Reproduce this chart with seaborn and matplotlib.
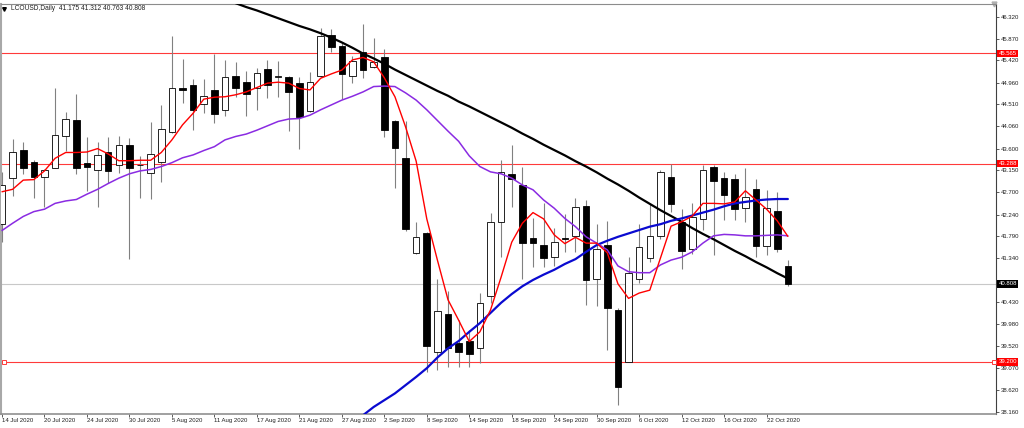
import numpy as np
import pandas as pd
import seaborn as sns
import matplotlib.pyplot as plt
from matplotlib import transforms

# daily bars, LCOUSD
dates = pd.bdate_range('2020-07-14', '2020-10-26')
date_labels = [f'{d.day} {d.strftime("%b %Y")}' for d in dates]

opens = [42.04, 43.00, 43.57, 43.33, 43.01, 43.21, 43.86, 44.18, 43.31, 43.15,
         43.52, 43.26, 43.68, 43.27, 43.09, 43.32, 43.95, 44.86, 44.91, 44.51,
         44.80, 44.40, 45.10, 44.98, 44.86, 45.24, 45.07, 45.08, 44.96, 44.38,
         45.10, 45.95, 45.72, 45.10, 45.59, 45.29, 45.48, 44.16, 43.41, 41.44,
         41.85, 39.41, 40.19, 39.58, 39.63, 39.49, 40.56, 42.08, 43.07, 42.85,
         41.75, 41.61, 41.36, 41.75, 41.80, 42.42, 40.92, 41.61, 40.27, 39.20,
         40.90, 41.35, 41.80, 43.01, 42.09, 41.52, 42.14, 43.23, 42.99, 42.97,
         42.37, 42.76, 41.59, 42.32, 41.175]
highs = [43.12, 43.80, 43.74, 43.37, 43.18, 44.84, 44.35, 44.73, 43.83, 43.73,
         43.83, 43.87, 43.81, 43.45, 44.14, 44.50, 45.92, 45.44, 45.03, 45.04,
         45.55, 45.43, 45.39, 45.20, 45.27, 45.43, 45.41, 45.10, 45.07, 45.17,
         46.08, 46.07, 45.77, 45.51, 46.17, 45.89, 45.65, 44.20, 44.16, 42.09,
         41.88, 40.90, 40.67, 40.06, 39.86, 40.62, 42.27, 43.37, 43.67, 43.23,
         42.16, 42.48, 41.96, 42.25, 42.59, 42.54, 42.05, 42.11, 40.31, 41.37,
         42.05, 42.46, 43.16, 43.28, 42.35, 42.47, 43.26, 43.26, 43.12, 43.08,
         43.21, 42.97, 42.75, 42.71, 41.312]
lows = [41.67, 42.62, 43.08, 42.58, 42.40, 43.21, 43.55, 43.08, 42.73, 42.40,
        42.90, 43.09, 41.32, 42.58, 42.55, 42.91, 43.92, 44.55, 43.98, 44.33,
        44.13, 44.28, 44.67, 44.28, 44.40, 44.64, 44.67, 43.96, 43.59, 44.36,
        45.08, 45.59, 44.62, 44.95, 45.05, 45.26, 43.83, 42.78, 41.91, 41.43,
        39.00, 39.03, 39.10, 39.10, 39.09, 39.17, 40.41, 41.37, 42.40, 40.90,
        41.15, 41.15, 41.18, 41.47, 41.47, 40.37, 40.35, 39.45, 38.31, 39.19,
        40.82, 41.27, 41.73, 42.30, 41.11, 41.42, 41.92, 41.41, 42.13, 42.13,
        42.09, 41.37, 41.41, 41.47, 40.763]
closes = [42.85, 43.52, 43.21, 43.02, 43.16, 43.89, 44.22, 43.21, 43.23, 43.47,
          43.13, 43.68, 43.21, 43.26, 43.49, 44.00, 44.86, 44.81, 44.40, 44.69,
          44.31, 45.07, 44.86, 44.73, 45.15, 44.91, 45.10, 44.77, 44.25, 44.97,
          45.92, 45.70, 45.14, 45.41, 45.22, 45.38, 43.98, 43.61, 41.94, 41.77,
          39.53, 40.25, 39.48, 39.41, 39.36, 40.41, 42.08, 43.12, 42.97, 41.65,
          41.65, 41.35, 41.68, 41.74, 42.39, 40.89, 41.52, 40.31, 38.68, 41.03,
          41.56, 41.80, 43.11, 42.46, 41.49, 42.18, 43.16, 42.94, 42.64, 42.35,
          42.61, 41.59, 42.37, 41.52, 40.808]

# moving averages
ma_red = [42.71, 42.76, 42.95, 42.96, 43.14, 43.40, 43.52, 43.52, 43.53, 43.60,
          43.49, 43.35, 43.35, 43.36, 43.36, 43.52, 43.78, 44.09, 44.33, 44.62,
          44.66, 44.67, 44.71, 44.77, 44.86, 44.95, 44.97, 44.95, 44.84, 44.81,
          45.05, 45.14, 45.22, 45.43, 45.48, 45.39, 45.06, 44.67, 44.05, 43.34,
          42.15, 41.30, 40.48, 40.06, 39.62, 39.82, 40.27, 40.95, 41.67, 42.06,
          42.28, 42.15, 41.82, 41.64, 41.77, 41.65, 41.65, 41.45, 40.81, 40.51,
          40.62, 40.68, 41.34, 42.00, 42.09, 42.21, 42.47, 42.47, 42.46, 42.50,
          42.73, 42.54, 42.35, 42.11, 41.79]
ma_purple = [41.91, 42.06, 42.20, 42.30, 42.35, 42.47, 42.52, 42.55, 42.66, 42.76,
             42.88, 42.99, 43.08, 43.14, 43.17, 43.23, 43.31, 43.41, 43.47, 43.56,
             43.64, 43.78, 43.85, 43.90, 43.98, 44.07, 44.16, 44.21, 44.22, 44.29,
             44.40, 44.50, 44.60, 44.68, 44.77, 44.88, 44.89, 44.88, 44.75, 44.60,
             44.40, 44.18, 43.96, 43.75, 43.45, 43.23, 43.12, 43.08, 42.99, 42.85,
             42.75, 42.54, 42.37, 42.16, 41.99, 41.78, 41.65, 41.51, 41.18, 41.06,
             41.04, 41.04, 41.20, 41.30, 41.36, 41.47, 41.65, 41.80, 41.83, 41.82,
             41.80, 41.80, 41.81, 41.82, 41.80]
ma_blue = [np.nan] * 33 + [
    37.92, 38.10, 38.27, 38.41, 38.55, 38.72, 38.89, 39.07, 39.29, 39.48,
    39.63, 39.82, 40.00, 40.21, 40.42, 40.60, 40.76, 40.89, 41.00, 41.10,
    41.22, 41.32, 41.47, 41.61, 41.70, 41.78, 41.85, 41.92, 41.99, 42.04,
    42.11, 42.16, 42.22, 42.28, 42.34, 42.41, 42.47, 42.50, 42.53, 42.55,
    42.56, 42.56]
ma_black = [np.nan] * 21 + [
    46.69, 46.60, 46.52, 46.45, 46.37, 46.29, 46.21, 46.13, 46.06, 45.98,
    45.89, 45.79, 45.68, 45.56, 45.46, 45.35, 45.23, 45.12, 45.01, 44.90,
    44.79, 44.69, 44.57, 44.47, 44.36, 44.25, 44.14, 44.03, 43.91, 43.80,
    43.68, 43.57, 43.46, 43.34, 43.23, 43.11, 42.98, 42.86, 42.73, 42.59,
    42.46, 42.33, 42.21, 42.09, 41.96, 41.84, 41.73, 41.61, 41.49, 41.38,
    41.26, 41.15, 41.03, 40.92]

levels = [45.565, 43.288, 39.200]
last_price = 40.808
price_ticks = [46.320, 45.870, 45.420, 44.960, 44.510, 44.060, 43.600, 43.150,
               42.700, 42.240, 41.790, 41.340, 40.880, 40.430, 39.980, 39.520,
               39.070, 38.620, 38.160]

df = pd.DataFrame({'bar': np.arange(len(dates)), 'open': opens, 'high': highs,
                   'low': lows, 'close': closes, 'ma_red': ma_red,
                   'ma_purple': ma_purple, 'ma_blue': ma_blue, 'ma_black': ma_black})

sns.set_style('white')
plt.rcParams['font.family'] = ['Liberation Sans Narrow', 'Liberation Sans', 'DejaVu Sans']

fig = plt.figure(figsize=(10.24, 4.28), dpi=100)
ax = fig.add_axes([1 / 1024, 1 - 414 / 428, 995 / 1024, 410 / 428])

# levels
for lv in levels:
    ax.axhline(lv, color='#ff3a3a', lw=0.8, zorder=1)
ax.axhline(last_price, color='#c8c8c8', lw=0.8, zorder=1)

# candles
up = df['close'] >= df['open']
ax.vlines(df['bar'], df['low'], df['high'], color='#808080', lw=0.8, zorder=2)
body_lo = np.minimum(df['open'], df['close'])
body_h = np.maximum(np.abs(df['close'] - df['open']), 0.004)
ax.bar(df['bar'], body_h, bottom=body_lo, width=0.62,
       color=np.where(up, 'white', 'black'), edgecolor='black', linewidth=0.6, zorder=3)

# moving averages
sns.lineplot(data=df, x='bar', y='ma_black', color='black', lw=1.6, estimator=None, ax=ax, zorder=4)
sns.lineplot(data=df, x='bar', y='ma_blue', color='#0a0ad0', lw=1.6, estimator=None, ax=ax, zorder=4)
sns.lineplot(data=df, x='bar', y='ma_purple', color='#8a2be2', lw=1.1, estimator=None, ax=ax, zorder=5)
sns.lineplot(data=df, x='bar', y='ma_red', color='#ff0000', lw=1.0, estimator=None, ax=ax, zorder=6)

trans = transforms.blended_transform_factory(ax.transAxes, ax.transData)

# small markers on the lower level line
ax.plot([0.003, 0.9975], [levels[2], levels[2]], ls='none', marker='s', ms=2.5,
        mfc='white', mec='#ff3a3a', mew=0.7, transform=trans, clip_on=False, zorder=6)

ax.set_xlim(-0.094, 93.6)
ax.set_ylim(38.125, 46.583)
ax.set_xlabel('')
ax.set_ylabel('')

tick_bars = list(range(0, len(dates), 4))
ax.set_xticks(tick_bars)
ax.set_xticklabels([date_labels[i] for i in tick_bars], fontsize=4.3, color='#202020')
for lbl in ax.get_xticklabels():
    lbl.set_horizontalalignment('left')
ax.tick_params(axis='x', length=2.2, width=0.6, pad=1, color='#404040', bottom=True)

# the 40.880 label sits under the current price box, as on the terminal
ax.yaxis.tick_right()
ax.set_yticks(price_ticks)
ax.set_yticklabels(['' if abs(v - 40.88) < 1e-6 else f'{v:.3f}' for v in price_ticks],
                   fontsize=4.3, color='#202020')
ax.tick_params(axis='y', length=2, width=0.6, pad=1.2, color='#404040', right=True)

ax.spines['left'].set_color('#a8a8a8')
ax.spines['left'].set_linewidth(1.5)
ax.spines['top'].set_color('#8c8c8c')
ax.spines['top'].set_linewidth(0.8)
ax.spines['right'].set_color('#404040')
ax.spines['right'].set_linewidth(0.8)
ax.spines['bottom'].set_color('#909090')
ax.spines['bottom'].set_linewidth(1.2)

# price labels on the scale
for lv in levels:
    ax.text(1.0025, lv, f'{lv:.3f}', transform=trans, ha='left', va='center', fontsize=4.3,
            color='white', zorder=10, clip_on=False,
            bbox=dict(boxstyle='square,pad=0.2', fc='#ff0000', ec='none'))
ax.text(1.0025, last_price, f'{last_price:.3f}', transform=trans, ha='left', va='center', fontsize=4.3,
        color='white', zorder=10, clip_on=False,
        bbox=dict(boxstyle='square,pad=0.2', fc='black', ec='none'))

# header
ax.plot([0.0035], [0.988], marker='v', ms=2.6, color='black', transform=ax.transAxes, clip_on=False)
ax.text(0.0098, 0.988, 'LCOUSD,Daily  41.175 41.312 40.763 40.808', transform=ax.transAxes,
        ha='left', va='center', fontsize=4.8, color='#202020')
ax.plot([0.9975], [1.0], marker='v', ms=3.5, color='#b0b0b0', transform=ax.transAxes, clip_on=False)

fig.savefig('out.png', dpi=100)
